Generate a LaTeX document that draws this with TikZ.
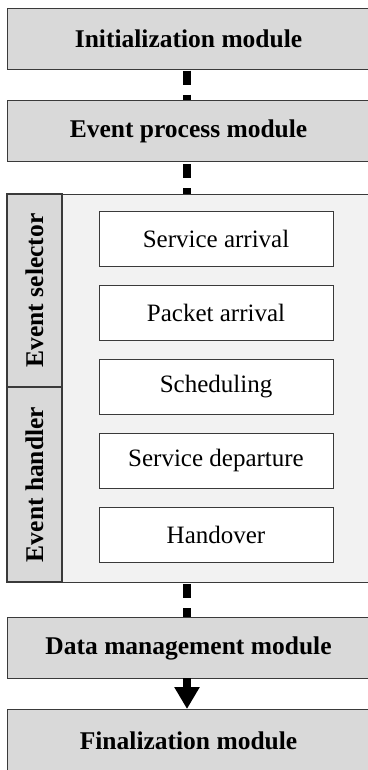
\documentclass[tikz,border=0pt]{standalone}
\usepackage{fontspec}
\setmainfont{Liberation Serif}
\usetikzlibrary{arrows.meta}

\definecolor{modfill}{HTML}{D9D9D9}
\definecolor{panelfill}{HTML}{F2F2F2}
\definecolor{edge}{HTML}{3A3A3A}

\tikzset{
  module/.style={draw=edge, line width=1.1pt, fill=modfill, minimum width=362pt,
    minimum height=61pt, inner sep=0pt, anchor=north west,
    font=\fontsize{25.5}{30}\selectfont\bfseries},
  panel/.style={draw=edge, line width=1.1pt, fill=panelfill, minimum width=362pt,
    minimum height=388pt, inner sep=0pt, anchor=north west},
  sidebar/.style={draw=edge, line width=1.1pt, fill=modfill, rotate=90,
    minimum height=55pt, inner sep=0pt,
    font=\fontsize{25.5}{30}\selectfont\bfseries},
  eventbox/.style={draw=edge, line width=1pt, fill=white, minimum width=234pt,
    minimum height=55pt, inner sep=0pt, font=\fontsize{25}{30}\selectfont},
  dashlink/.style={line width=8pt, black, dash pattern=on 14pt off 10pt, dash phase=22pt},
  solidlink/.style={line width=8pt, black, -{Triangle[length=22pt,width=24pt]}}
}

\begin{document}
\begin{tikzpicture}[x=1pt,y=-1pt]
\useasboundingbox (0,0) rectangle (367,770);

% main modules
\node[module] (init) at (7,8) {Initialization module};
\node[module] (evproc) at (7,100) {Event process module};

% event loop panel
\node[panel] (loop) at (7,194) {};
\node[sidebar, minimum width=193pt] (selector) at (34.5,290.5) {Event selector};
\node[sidebar, minimum width=195pt] (handler) at (34.5,484.5) {Event handler};

\node[eventbox] (sa)  at (216,238.5) {Service arrival};
\node[eventbox] (pa)  at (216,313)   {Packet arrival};
\node[eventbox] (sch) at (216,387)   {Scheduling};
\node[eventbox] (sd)  at (216,460.5) {Service departure};
\node[eventbox] (ho)  at (216,534.5) {Handover};

\node[module] (data) at (7,617) {Data management module};
\node[module, minimum height=62pt] (final) at (7,709) {Finalization module};

% connectors
\coordinate (a1) at (187,68.7);  \coordinate (b1) at (187,100);
\coordinate (a2) at (187,162.3); \coordinate (b2) at (187,194);
\coordinate (a3) at (187,582);   \coordinate (b3) at (187,617);
\coordinate (a4) at (187,678);   \coordinate (b4) at (187,709);
\draw[dashlink] (a1) -- (b1);
\draw[dashlink] (a2) -- (b2);
\draw[dashlink] (a3) -- (b3);
\draw[solidlink] (a4) -- (b4);
\end{tikzpicture}
\end{document}
